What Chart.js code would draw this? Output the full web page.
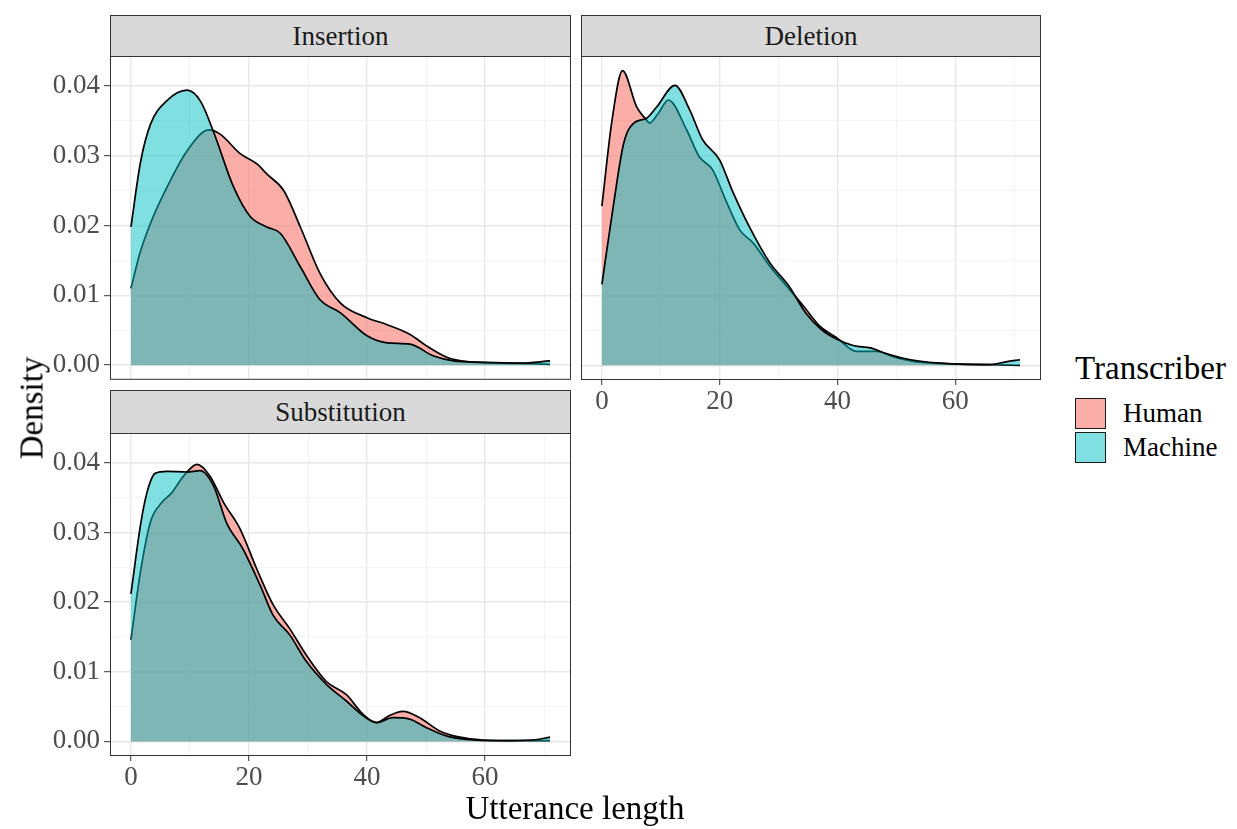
<!DOCTYPE html>
<html>
<head>
<meta charset="utf-8">
<script src="https://cdn.jsdelivr.net/npm/chart.js@4.4.1/dist/chart.umd.min.js"></script>
<style>
  body { margin: 0; background: #fff; width: 1237px; height: 829px; position: relative; overflow: hidden; font-family: 'Liberation Serif', 'DejaVu Serif', serif; }
  canvas { position: absolute; }
  .strip { position: absolute; background: #d9d9d9; border: 1px solid #333; box-sizing: border-box; text-align: center; font-size: 27px; color: #1a1a1a; }
  .title { position: absolute; font-size: 33px; color: #000; white-space: nowrap; }
  .key { position: absolute; width: 31px; height: 31px; box-sizing: border-box; border: 1.5px solid #1a1a1a; }
  .klab { position: absolute; font-size: 27px; color: #000; line-height: 30px; }
</style>
</head>
<body>
<!-- canvases start 24px above their panels: that strip of canvas is the layout's top padding -->
<canvas id="ins" width="571" height="368" style="left:0;top:32px"></canvas>
<canvas id="del" width="460" height="388" style="left:581px;top:32px"></canvas>
<canvas id="sub" width="571" height="387" style="left:0;top:409px"></canvas>

<div class="strip" style="left:110px;top:15px;width:461px;height:42px;line-height:40px">Insertion</div>
<div class="strip" style="left:581px;top:15px;width:460px;height:42px;line-height:40px">Deletion</div>
<div class="strip" style="left:110px;top:390px;width:461px;height:44px;line-height:42px">Substitution</div>

<div class="title" style="left:32px;top:408px;transform:translate(-50%,-50%) rotate(-90deg)">Density</div>
<div class="title" style="left:575px;top:808px;transform:translate(-50%,-50%)">Utterance length</div>

<div class="title" style="left:1075px;top:348px;line-height:40px">Transcriber</div>
<div class="key" style="left:1075px;top:398px;background:rgba(248,118,109,0.6)"></div>
<div class="key" style="left:1075px;top:432px;background:rgba(0,191,196,0.5)"></div>
<div class="klab" style="left:1123px;top:398px">Human</div>
<div class="klab" style="left:1123px;top:432px">Machine</div>

<script>
// utterance length (x) and density (y)
const insHumanX = [0, 1.5, 3.3, 6.1, 9.5, 13.2, 15.1, 18.5, 21.4, 23, 25.9, 28.7, 32, 35.5, 40, 43.4, 47.3, 50, 53.6, 57, 62.6, 68, 71];
const insHumanY = [0.0110, 0.0160, 0.0203, 0.0255, 0.0307, 0.0337, 0.0331, 0.0303, 0.0288, 0.0274, 0.0250, 0.0198, 0.0132, 0.0089, 0.0068, 0.0058, 0.0044, 0.0028, 0.0011, 0.0005, 0.0003, 0.0002, 0.0001];
const insMachineX = [0, 1.6, 3.3, 6.1, 9.5, 11.8, 14, 17.4, 20.2, 23, 25.3, 28.7, 32, 35.5, 40, 43.4, 47.3, 51.3, 54.7, 59.8, 66, 71];
const insMachineY = [0.0198, 0.0290, 0.0345, 0.0379, 0.0394, 0.0378, 0.0334, 0.0255, 0.0213, 0.0198, 0.0189, 0.0141, 0.0094, 0.0075, 0.0042, 0.0032, 0.0030, 0.0013, 0.0006, 0.0004, 0.0003, 0.0006];

const delHumanX = [0, 1.7, 3.5, 5.9, 7.3, 8.1, 9.5, 11.3, 14.4, 16.5, 18.8, 21, 23.4, 25.7, 28.5, 31.4, 34.2, 37, 39.8, 43.2, 46.6, 50, 53.4, 59.6, 66.4, 71];
const delHumanY = [0.0228, 0.0350, 0.0422, 0.0370, 0.0354, 0.0347, 0.0360, 0.0380, 0.0337, 0.0299, 0.0280, 0.0237, 0.0194, 0.0175, 0.0142, 0.0113, 0.0085, 0.0056, 0.0040, 0.0020, 0.0020, 0.0011, 0.0005, 0.0002, 0.0001, 0.0000];
const delMachineX = [0, 2, 3.7, 5.4, 7.6, 9.3, 12.4, 14.9, 17.1, 20, 22.1, 25, 28.5, 31.8, 34.6, 37.3, 40, 42.8, 45.6, 48.5, 52.4, 59.5, 65.8, 68.6, 71];
const delMachineY = [0.0116, 0.0232, 0.0318, 0.0347, 0.0354, 0.0370, 0.0401, 0.0366, 0.0323, 0.0294, 0.0251, 0.0199, 0.0147, 0.0113, 0.0075, 0.0051, 0.0037, 0.0028, 0.0025, 0.0016, 0.0008, 0.0002, 0.0001, 0.0005, 0.0008];

const subHumanX = [0, 1.6, 3.3, 5, 6.9, 8.9, 11.2, 13.4, 15.7, 18.5, 21.3, 24.1, 26.9, 29.7, 33.1, 36.5, 39.3, 41.6, 43.8, 46.1, 48.9, 52.3, 55.7, 59.6, 65.2, 71];
const subHumanY = [0.0146, 0.0243, 0.0315, 0.0341, 0.0357, 0.0381, 0.0398, 0.0381, 0.0343, 0.0305, 0.0248, 0.0196, 0.0162, 0.0124, 0.0086, 0.0067, 0.0039, 0.0027, 0.0037, 0.0043, 0.0034, 0.0015, 0.0006, 0.0002, 0.0001, 0.0001];
const subMachineX = [0, 1.6, 2.7, 4.1, 6.1, 9.5, 11.7, 14, 16.2, 19, 21.9, 24.1, 26.9, 29.7, 33.1, 36.5, 39.3, 41.6, 44.4, 47.2, 50, 53.4, 56.8, 62.4, 68, 71];
const subMachineY = [0.0212, 0.0310, 0.0357, 0.0385, 0.0388, 0.0387, 0.0389, 0.0367, 0.0314, 0.0276, 0.0224, 0.0181, 0.0153, 0.0115, 0.0082, 0.0058, 0.0037, 0.0027, 0.0034, 0.0032, 0.0020, 0.0008, 0.0003, 0.0001, 0.0002, 0.0006];

const xTicks = [0, 10, 20, 30, 40, 50, 60, 70];
const yTicks = [0, 0.005, 0.01, 0.015, 0.02, 0.025, 0.03, 0.035, 0.04];

const tickFont = { family: "'Liberation Serif', serif", size: 27 };

const panelBorder = {
  id: 'panelBorder',
  afterDatasetsDraw(chart) {
    const a = chart.chartArea, c = chart.ctx;
    c.save();
    c.strokeStyle = '#333333';
    c.lineWidth = 1;
    c.strokeRect(a.left + 0.5, a.top + 0.5, a.width - 1, a.height - 1);
    c.restore();
  }
};

function pts(xs, ys) {
  return xs.map((x, i) => ({ x: x, y: ys[i] }));
}

function panel(id, hx, hy, mx, my, showX, showY, xHeight) {
  new Chart(document.getElementById(id), {
    type: 'line',
    data: {
      datasets: [
        { label: 'Human', data: pts(hx, hy), order: 2,
          borderColor: '#000', borderWidth: 1.7, backgroundColor: 'rgba(248,118,109,0.6)',
          fill: 'origin', pointRadius: 0, cubicInterpolationMode: 'monotone' },
        { label: 'Machine', data: pts(mx, my), order: 1,
          borderColor: '#000', borderWidth: 1.7, backgroundColor: 'rgba(0,191,196,0.5)',
          fill: 'origin', pointRadius: 0, cubicInterpolationMode: 'monotone' }
      ]
    },
    options: {
      responsive: false,
      animation: false,
      layout: { padding: { top: 24, left: 0, right: 0, bottom: 0 } },
      plugins: { legend: { display: false }, tooltip: { enabled: false } },
      scales: {
        x: {
          type: 'linear', min: -3.55, max: 74.55,
          afterBuildTicks: s => { s.ticks = xTicks.map(v => ({ value: v })); },
          afterFit: s => { s.height = xHeight; },
          border: { display: false },
          grid: {
            color: c => (c.index % 2 === 0 ? '#e8e8e8' : '#f2f2f2'),
            lineWidth: c => (c.index % 2 === 0 ? 1.4 : 0.9),
            drawTicks: showX,
            tickLength: 5,
            tickColor: c => (c.index % 2 === 0 ? '#333333' : 'rgba(0,0,0,0)'),
            tickWidth: 1
          },
          ticks: {
            display: showX, maxRotation: 0, autoSkip: false, padding: 1,
            font: tickFont, color: '#4d4d4d',
            callback: (v, i) => (i % 2 === 0 ? String(v) : '')
          }
        },
        y: {
          type: 'linear', min: -0.0021, max: 0.0443,
          afterBuildTicks: s => { s.ticks = yTicks.map(v => ({ value: v })); },
          afterFit: s => { s.width = showY ? 110 : 0; },
          border: { display: false },
          grid: {
            color: c => (c.index % 2 === 0 ? '#e8e8e8' : '#f2f2f2'),
            lineWidth: c => (c.index % 2 === 0 ? 1.4 : 0.9),
            drawTicks: showY,
            tickLength: 6,
            tickColor: c => (c.index % 2 === 0 ? '#333333' : 'rgba(0,0,0,0)'),
            tickWidth: 1
          },
          ticks: {
            display: showY, autoSkip: false, padding: 4,
            font: tickFont, color: '#4d4d4d',
            callback: (v, i) => (i % 2 === 0 ? v.toFixed(2) : '')
          }
        }
      }
    },
    plugins: [panelBorder]
  });
}

panel('ins', insHumanX, insHumanY, insMachineX, insMachineY, false, true, 20);
panel('del', delHumanX, delHumanY, delMachineX, delMachineY, true, false, 40);
panel('sub', subHumanX, subHumanY, subMachineX, subMachineY, true, true, 40);
</script>
</body>
</html>
